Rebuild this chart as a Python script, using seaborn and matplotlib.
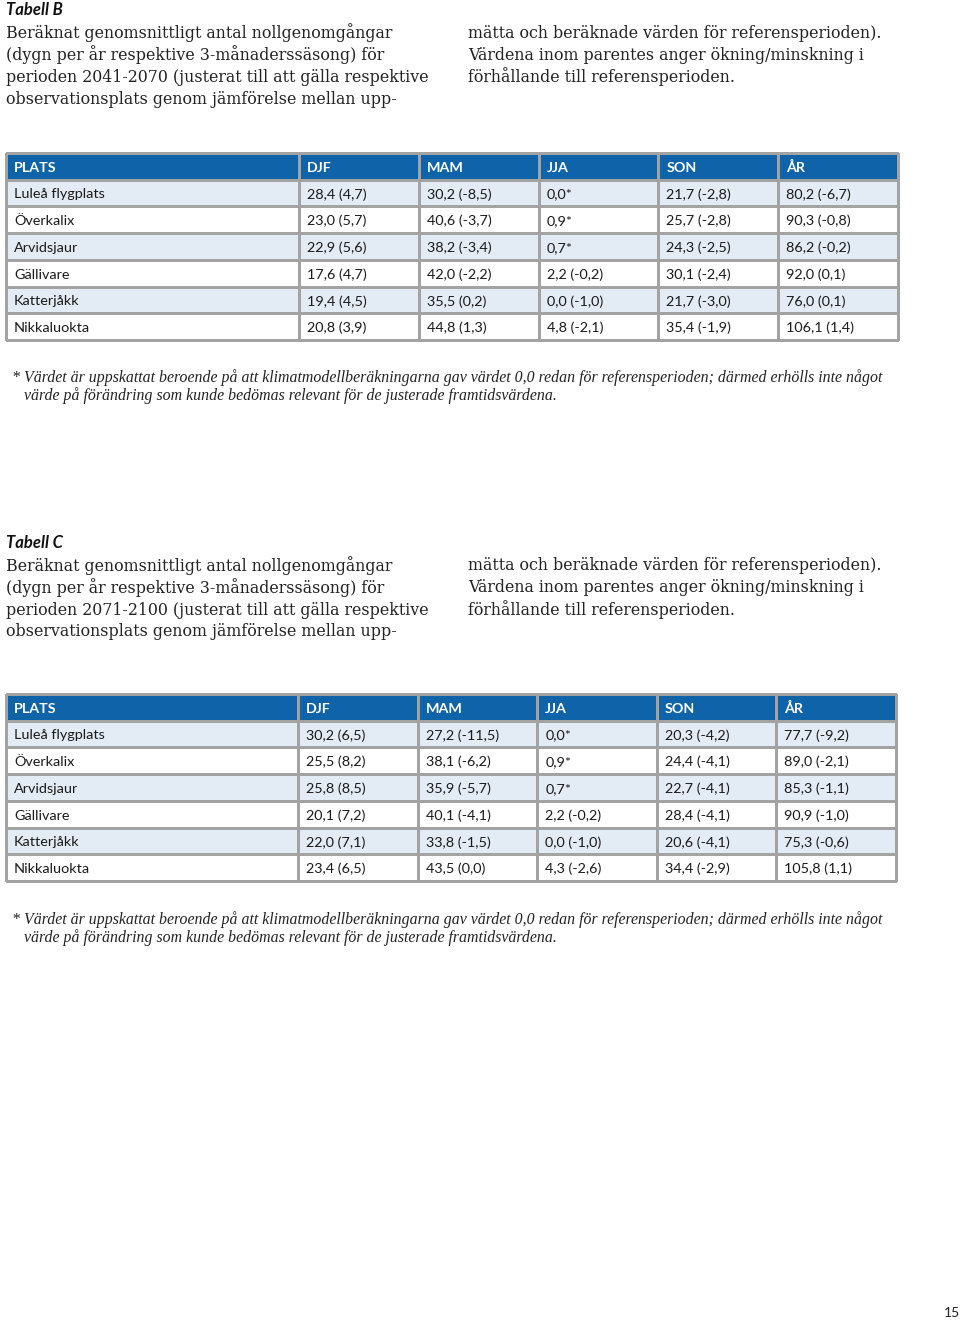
import numpy as np
import matplotlib
matplotlib.use("Agg")
import matplotlib.pyplot as plt
from matplotlib.colors import ListedColormap
import seaborn as sns

sns.set_theme(style="white")

# table data
columns = ["PLATS", "DJF", "MAM", "JJA", "SON", "ÅR"]
places = ["Luleå flygplats", "Överkalix", "Arvidsjaur", "Gällivare", "Katterjåkk", "Nikkaluokta"]

djf_b = ["28,4 (4,7)", "23,0 (5,7)", "22,9 (5,6)", "17,6 (4,7)", "19,4 (4,5)", "20,8 (3,9)"]
mam_b = ["30,2 (-8,5)", "40,6 (-3,7)", "38,2 (-3,4)", "42,0 (-2,2)", "35,5 (0,2)", "44,8 (1,3)"]
jja_b = ["0,0*", "0,9*", "0,7*", "2,2 (-0,2)", "0,0 (-1,0)", "4,8 (-2,1)"]
son_b = ["21,7 (-2,8)", "25,7 (-2,8)", "24,3 (-2,5)", "30,1 (-2,4)", "21,7 (-3,0)", "35,4 (-1,9)"]
ar_b = ["80,2 (-6,7)", "90,3 (-0,8)", "86,2 (-0,2)", "92,0 (0,1)", "76,0 (0,1)", "106,1 (1,4)"]

djf_c = ["30,2 (6,5)", "25,5 (8,2)", "25,8 (8,5)", "20,1 (7,2)", "22,0 (7,1)", "23,4 (6,5)"]
mam_c = ["27,2 (-11,5)", "38,1 (-6,2)", "35,9 (-5,7)", "40,1 (-4,1)", "33,8 (-1,5)", "43,5 (0,0)"]
jja_c = ["0,0*", "0,9*", "0,7*", "2,2 (-0,2)", "0,0 (-1,0)", "4,3 (-2,6)"]
son_c = ["20,3 (-4,2)", "24,4 (-4,1)", "22,7 (-4,1)", "28,4 (-4,1)", "20,6 (-4,1)", "34,4 (-2,9)"]
ar_c = ["77,7 (-9,2)", "89,0 (-2,1)", "85,3 (-1,1)", "90,9 (-1,0)", "75,3 (-0,6)", "105,8 (1,1)"]

title_b = "Tabell B"
left_b = ["Beräknat genomsnittligt antal nollgenomgångar",
          "(dygn per år respektive 3-månaderssäsong) för",
          "perioden 2041-2070 (justerat till att gälla respektive",
          "observationsplats genom jämförelse mellan upp-"]
title_c = "Tabell C"
left_c = ["Beräknat genomsnittligt antal nollgenomgångar",
          "(dygn per år respektive 3-månaderssäsong) för",
          "perioden 2071-2100 (justerat till att gälla respektive",
          "observationsplats genom jämförelse mellan upp-"]
right_text = ["mätta och beräknade värden för referensperioden).",
              "Värdena inom parentes anger ökning/minskning i",
              "förhållande till referensperioden."]
footnote = ["* Värdet är uppskattat beroende på att klimatmodellberäkningarna gav värdet 0,0 redan för referensperioden; därmed erhölls inte något",
            "värde på förändring som kunde bedömas relevant för de justerade framtidsvärdena."]

W, H = 960, 1322
BLUE = "#0f63a8"
LIGHT = "#e3ebf5"
GRID = "#a3a3a3"
SANS = "Lato"
SERIF = "DejaVu Serif"
FOOT = "Liberation Serif"

fig = plt.figure(figsize=(W / 100, H / 100), dpi=100)


def fy(y):
    return 1 - y / H


def draw_table(top, bottom, xs, values):
    n_rows = len(places) + 1
    shade = np.zeros((n_rows, 1))
    shade[0] = 2
    shade[1::2] = 1
    cmap = ListedColormap(["white", LIGHT, BLUE])
    # first column (place names) and value columns drawn as two heatmaps
    parts = [(xs[0], xs[1], [columns[0]], [places]),
             (xs[1], xs[-1], columns[1:], values)]
    for x0, x1, heads, cols in parts:
        ncol = len(heads)
        ax = fig.add_axes([x0 / W, fy(bottom), (x1 - x0) / W, (bottom - top) / H])
        sns.heatmap(np.repeat(shade, ncol, axis=1), ax=ax, cmap=cmap, vmin=0, vmax=2,
                    cbar=False, linewidths=0.75, linecolor=GRID,
                    xticklabels=False, yticklabels=False)
        ax.collections[0].set_clip_on(False)
        col_px = (x1 - x0) / ncol
        pad = 8 / col_px
        for j, head in enumerate(heads):
            ax.text(j + pad, 0.55, head, ha="left", va="center", color="white",
                    fontsize=10.3, fontweight="bold", family=SANS)
            for i, val in enumerate(cols[j]):
                ax.text(j + pad, i + 1.55, val, ha="left", va="center", color="#1a1a1a",
                        fontsize=10.4, family=SANS)
        ax.set_axis_off()


def draw_block(y_title, lines_left, title, y_table, xs, values, y_foot):
    fig.text(6 / W, fy(y_title), title, ha="left", va="center", fontsize=12,
             fontweight="bold", fontstyle="italic", family=SANS, color="#111111")
    for k, line in enumerate(lines_left):
        fig.text(6 / W, fy(y_title + 23 + 22 * k), line, ha="left", va="center",
                 fontsize=11.4, family=SERIF, color="#222222")
    for k, line in enumerate(right_text):
        fig.text(468 / W, fy(y_title + 23 + 22 * k), line, ha="left", va="center",
                 fontsize=11.4, family=SERIF, color="#222222")
    draw_table(y_table[0], y_table[1], xs, values)
    fig.text(12 / W, fy(y_foot), footnote[0], ha="left", va="center", fontsize=11.4,
             fontstyle="italic", family=FOOT, color="#222222")
    fig.text(24 / W, fy(y_foot + 18), footnote[1], ha="left", va="center", fontsize=11.4,
             fontstyle="italic", family=FOOT, color="#222222")


draw_block(10, left_b, title_b, (153, 340), [6, 299, 419, 539, 659, 779, 898],
           [djf_b, mam_b, jja_b, son_b, ar_b], 378)
draw_block(543, left_c, title_c, (694, 881), [6, 298, 418, 537, 657, 777, 896],
           [djf_c, mam_c, jja_c, son_c, ar_c], 920)

fig.text(952 / W, fy(1313), "15", ha="center", va="center", fontsize=10,
         family=SANS, color="#222222")

fig.savefig("out.png", dpi=100)
